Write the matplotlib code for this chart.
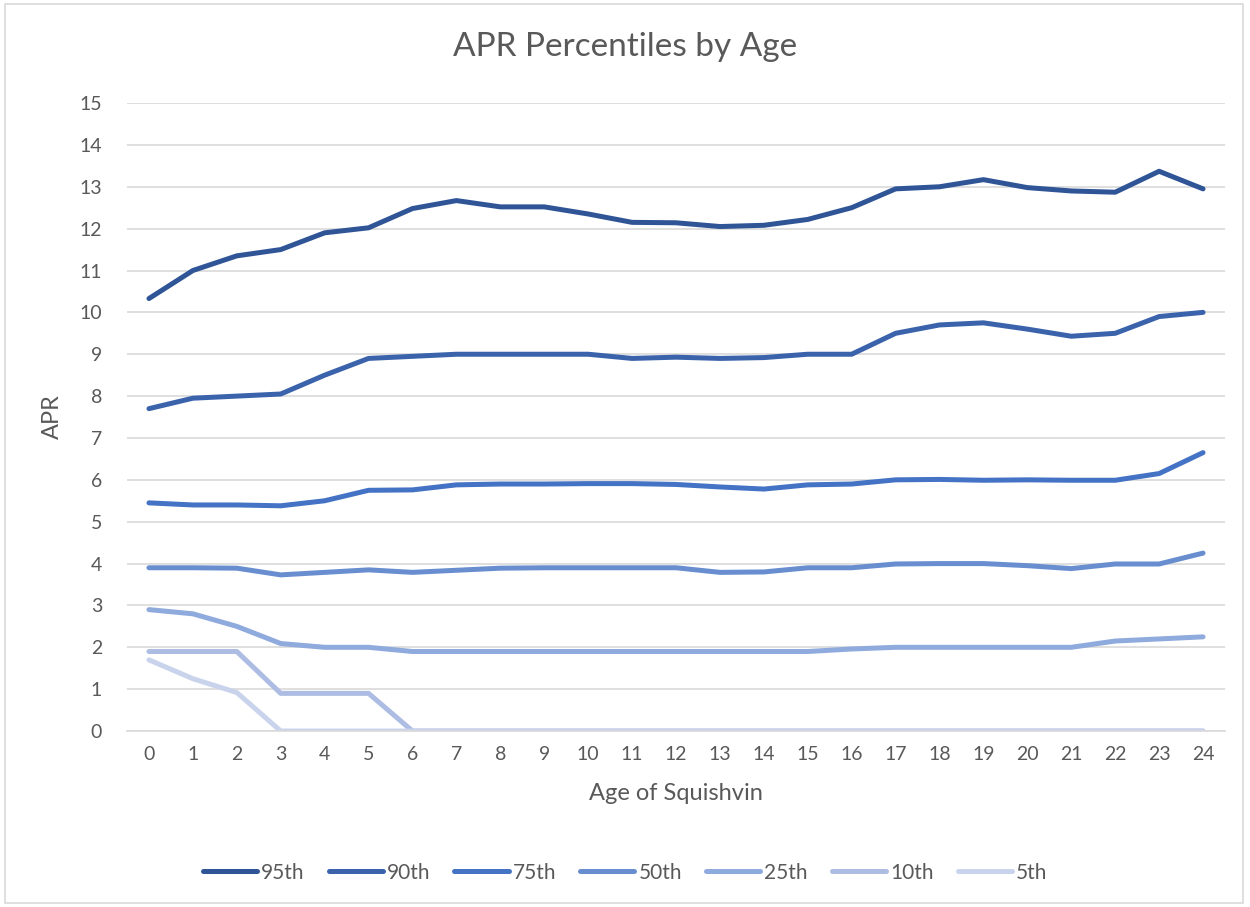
import matplotlib
matplotlib.use("Agg")
import matplotlib.pyplot as plt
from matplotlib.patches import Rectangle

ages = list(range(25))

p95 = [10.33, 11.0, 11.35, 11.5, 11.9, 12.02, 12.48, 12.67, 12.52, 12.52, 12.35, 12.15, 12.14,
       12.05, 12.08, 12.22, 12.5, 12.95, 13.0, 13.17, 12.98, 12.9, 12.87, 13.37, 12.95]
p90 = [7.7, 7.95, 8.0, 8.05, 8.5, 8.9, 8.95, 9.0, 9.0, 9.0, 9.0, 8.9, 8.93, 8.9, 8.92, 9.0,
       9.0, 9.5, 9.7, 9.75, 9.6, 9.43, 9.5, 9.9, 10.0]
p75 = [5.45, 5.4, 5.4, 5.38, 5.5, 5.75, 5.76, 5.88, 5.9, 5.9, 5.91, 5.91, 5.89, 5.83, 5.78,
       5.88, 5.9, 6.0, 6.01, 5.99, 6.0, 5.99, 5.99, 6.15, 6.65]
p50 = [3.9, 3.9, 3.89, 3.73, 3.79, 3.85, 3.79, 3.84, 3.89, 3.9, 3.9, 3.9, 3.9, 3.79, 3.8,
       3.9, 3.9, 3.99, 4.0, 4.0, 3.95, 3.88, 3.99, 3.99, 4.25]
p25 = [2.9, 2.8, 2.5, 2.09, 2.0, 2.0, 1.9, 1.9, 1.9, 1.9, 1.9, 1.9, 1.9, 1.9, 1.9,
       1.9, 1.96, 2.0, 2.0, 2.0, 2.0, 2.0, 2.15, 2.2, 2.25]
p10 = [1.9, 1.9, 1.9, 0.9, 0.9, 0.9, 0, 0, 0, 0, 0, 0, 0, 0, 0,
       0, 0, 0, 0, 0, 0, 0, 0, 0, 0]
p5 = [1.7, 1.25, 0.92, 0, 0, 0, 0, 0, 0, 0, 0, 0, 0, 0, 0,
      0, 0, 0, 0, 0, 0, 0, 0, 0, 0]

labels = ["95th", "90th", "75th", "50th", "25th", "10th", "5th"]
series = [p95, p90, p75, p50, p25, p10, p5]
colors = ["#2F5597", "#3A63AC", "#4472C4", "#698ED0", "#8FAADC", "#ADBCE3", "#C9D3EB"]

plt.rcParams["font.family"] = ["Lato", "DejaVu Sans"]
text_color = "#595959"
grid_color = "#D9D9D9"

fig = plt.figure(figsize=(12.5, 9.07), dpi=100)
ax = fig.add_axes([0.1016, 0.194, 0.8784, 0.6924])

for vals, lab, col in zip(series, labels, colors):
    ax.plot(ages, vals, color=col, linewidth=3.6, label=lab,
            solid_capstyle="round", solid_joinstyle="round")

ax.set_xlim(-0.5, 24.5)
ax.set_ylim(0, 15)
ax.set_xticks(ages)
ax.set_yticks(range(16))
ax.tick_params(length=0, labelsize=14, colors=text_color)
ax.tick_params(axis="x", pad=11)
ax.tick_params(axis="y", pad=18)
ax.grid(axis="y", color=grid_color, linewidth=1.2)
ax.set_axisbelow(True)
for side in ("top", "right", "left"):
    ax.spines[side].set_visible(False)
ax.spines["bottom"].set_color(grid_color)
ax.spines["bottom"].set_linewidth(1.2)

ax.set_xlabel("Age of Squishvin", fontsize=17, color=text_color, labelpad=14)
ax.set_ylabel("APR", fontsize=17, color=text_color, labelpad=12)
fig.text(0.5, 0.948, "APR Percentiles by Age", ha="center", va="center",
         fontsize=24, color=text_color)

leg = fig.legend(loc="center", bbox_to_anchor=(0.5, 0.038), ncol=7, frameon=False,
                 fontsize=15, handlelength=2.6, handletextpad=0.2, columnspacing=1.15)
for t in leg.get_texts():
    t.set_color(text_color)

fig.patches.append(Rectangle((0.004, 0.004), 0.99, 0.992, transform=fig.transFigure,
                             fill=False, edgecolor=grid_color, linewidth=1.2))

fig.savefig("out.png", dpi=100)
